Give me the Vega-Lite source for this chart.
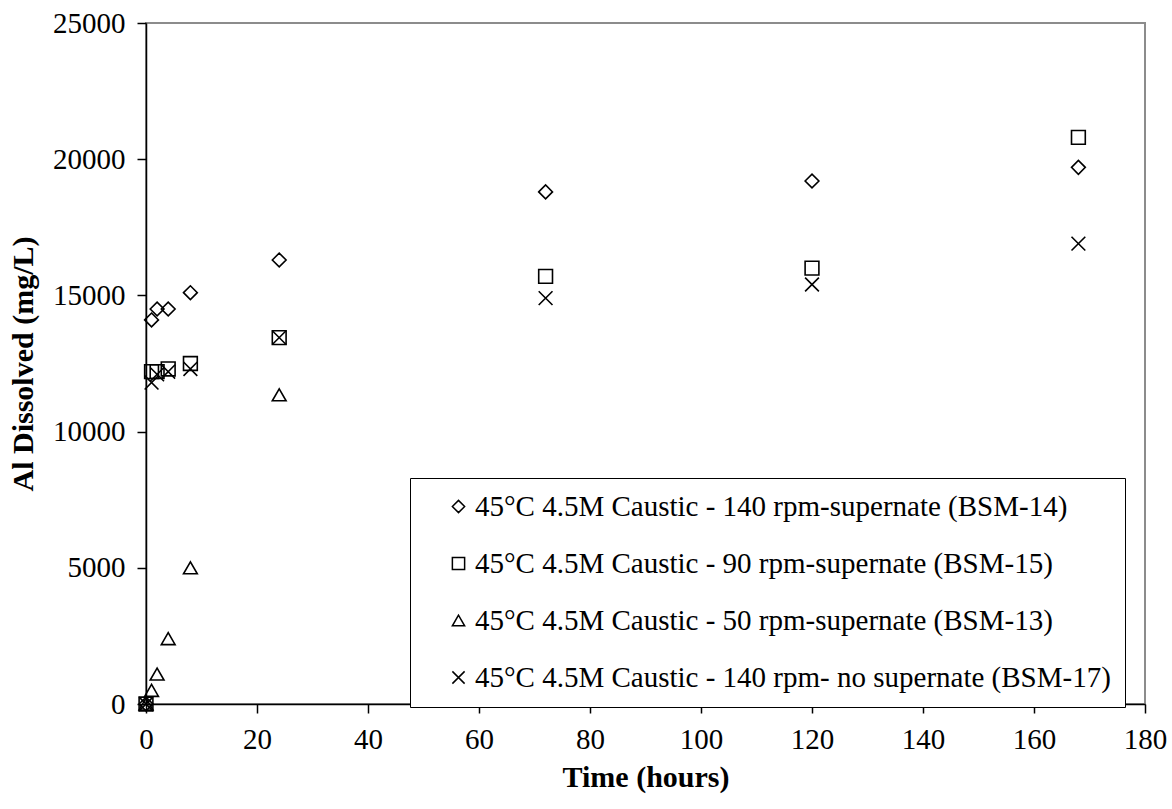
{
  "$schema": "https://vega.github.io/schema/vega-lite/v6.json",
  "autosize": "none",
  "padding": {"left": 146, "top": 23, "right": 27, "bottom": 105},
  "width": 999,
  "height": 681,
  "background": "white",
  "config": {
    "font": "Times New Roman",
    "view": {"stroke": "#8c8c8c", "strokeWidth": 2},
    "axis": {
      "grid": false,
      "domainColor": "black",
      "domainWidth": 1.5,
      "tickColor": "black",
      "tickWidth": 1.5,
      "tickSize": 9,
      "labelFlush": false,
      "labelFont": "Times New Roman",
      "labelFontSize": 29,
      "labelColor": "black",
      "titleFont": "Times New Roman",
      "titleFontSize": 30,
      "titleFontWeight": "bold",
      "titleColor": "black"
    }
  },
  "data": {
    "values": [
      {"series": "45°C 4.5M Caustic - 140 rpm-supernate (BSM-14)", "time": 0, "al": 0},
      {"series": "45°C 4.5M Caustic - 140 rpm-supernate (BSM-14)", "time": 1, "al": 14100},
      {"series": "45°C 4.5M Caustic - 140 rpm-supernate (BSM-14)", "time": 2, "al": 14500},
      {"series": "45°C 4.5M Caustic - 140 rpm-supernate (BSM-14)", "time": 4, "al": 14500},
      {"series": "45°C 4.5M Caustic - 140 rpm-supernate (BSM-14)", "time": 8, "al": 15100},
      {"series": "45°C 4.5M Caustic - 140 rpm-supernate (BSM-14)", "time": 24, "al": 16300},
      {"series": "45°C 4.5M Caustic - 140 rpm-supernate (BSM-14)", "time": 72, "al": 18800},
      {"series": "45°C 4.5M Caustic - 140 rpm-supernate (BSM-14)", "time": 120, "al": 19200},
      {"series": "45°C 4.5M Caustic - 140 rpm-supernate (BSM-14)", "time": 168, "al": 19700},
      {"series": "45°C 4.5M Caustic - 90 rpm-supernate (BSM-15)", "time": 0, "al": 0},
      {"series": "45°C 4.5M Caustic - 90 rpm-supernate (BSM-15)", "time": 1, "al": 12200},
      {"series": "45°C 4.5M Caustic - 90 rpm-supernate (BSM-15)", "time": 2, "al": 12200},
      {"series": "45°C 4.5M Caustic - 90 rpm-supernate (BSM-15)", "time": 4, "al": 12300},
      {"series": "45°C 4.5M Caustic - 90 rpm-supernate (BSM-15)", "time": 8, "al": 12500},
      {"series": "45°C 4.5M Caustic - 90 rpm-supernate (BSM-15)", "time": 24, "al": 13450},
      {"series": "45°C 4.5M Caustic - 90 rpm-supernate (BSM-15)", "time": 72, "al": 15700},
      {"series": "45°C 4.5M Caustic - 90 rpm-supernate (BSM-15)", "time": 120, "al": 16000},
      {"series": "45°C 4.5M Caustic - 90 rpm-supernate (BSM-15)", "time": 168, "al": 20800},
      {"series": "45°C 4.5M Caustic - 50 rpm-supernate (BSM-13)", "time": 0, "al": 0},
      {"series": "45°C 4.5M Caustic - 50 rpm-supernate (BSM-13)", "time": 1, "al": 500},
      {"series": "45°C 4.5M Caustic - 50 rpm-supernate (BSM-13)", "time": 2, "al": 1100},
      {"series": "45°C 4.5M Caustic - 50 rpm-supernate (BSM-13)", "time": 4, "al": 2400},
      {"series": "45°C 4.5M Caustic - 50 rpm-supernate (BSM-13)", "time": 8, "al": 5000},
      {"series": "45°C 4.5M Caustic - 50 rpm-supernate (BSM-13)", "time": 24, "al": 11350},
      {"series": "45°C 4.5M Caustic - 140 rpm- no supernate (BSM-17)", "time": 0, "al": 0},
      {"series": "45°C 4.5M Caustic - 140 rpm- no supernate (BSM-17)", "time": 1, "al": 11800},
      {"series": "45°C 4.5M Caustic - 140 rpm- no supernate (BSM-17)", "time": 2, "al": 12100},
      {"series": "45°C 4.5M Caustic - 140 rpm- no supernate (BSM-17)", "time": 4, "al": 12200},
      {"series": "45°C 4.5M Caustic - 140 rpm- no supernate (BSM-17)", "time": 8, "al": 12300},
      {"series": "45°C 4.5M Caustic - 140 rpm- no supernate (BSM-17)", "time": 24, "al": 13450},
      {"series": "45°C 4.5M Caustic - 140 rpm- no supernate (BSM-17)", "time": 72, "al": 14900},
      {"series": "45°C 4.5M Caustic - 140 rpm- no supernate (BSM-17)", "time": 120, "al": 15400},
      {"series": "45°C 4.5M Caustic - 140 rpm- no supernate (BSM-17)", "time": 168, "al": 16900}
    ]
  },
  "mark": {"type": "point", "filled": false, "strokeWidth": 1.6, "opacity": 1},
  "encoding": {
    "x": {
      "field": "time",
      "type": "quantitative",
      "scale": {"domain": [0, 180], "nice": false, "zero": false},
      "axis": {"values": [0, 20, 40, 60, 80, 100, 120, 140, 160, 180], "title": "Time (hours)", "labelPadding": 12, "titlePadding": 8}
    },
    "y": {
      "field": "al",
      "type": "quantitative",
      "scale": {"domain": [0, 25000], "nice": false},
      "axis": {"values": [0, 5000, 10000, 15000, 20000, 25000], "format": "d", "title": "Al Dissolved (mg/L)", "labelPadding": 12, "titlePadding": 14}
    },
    "shape": {
      "field": "series",
      "type": "nominal",
      "sort": [
        "45°C 4.5M Caustic - 140 rpm-supernate (BSM-14)",
        "45°C 4.5M Caustic - 90 rpm-supernate (BSM-15)",
        "45°C 4.5M Caustic - 50 rpm-supernate (BSM-13)",
        "45°C 4.5M Caustic - 140 rpm- no supernate (BSM-17)"
      ],
      "scale": {
        "domain": [
          "45°C 4.5M Caustic - 140 rpm-supernate (BSM-14)",
          "45°C 4.5M Caustic - 90 rpm-supernate (BSM-15)",
          "45°C 4.5M Caustic - 50 rpm-supernate (BSM-13)",
          "45°C 4.5M Caustic - 140 rpm- no supernate (BSM-17)"
        ],
        "range": ["diamond", "square", "triangle-up", "M-1,-1L1,1M-1,1L1,-1"]
      },
      "legend": {
        "title": null,
        "orient": "none",
        "legendX": 264,
        "legendY": 455,
        "padding": 14,
        "symbolOffset": 20,
        "rowPadding": 27,
        "labelFontSize": 29,
        "labelFont": "Times New Roman",
        "labelColor": "black",
        "labelLimit": 900,
        "labelOffset": 2,
        "symbolSize": 150,
        "symbolStrokeColor": "black",
        "symbolFillColor": "transparent",
        "fillColor": "white",
        "strokeColor": "black"
      }
    },
    "color": {"value": "black"},
    "size": {"value": 190}
  }
}
